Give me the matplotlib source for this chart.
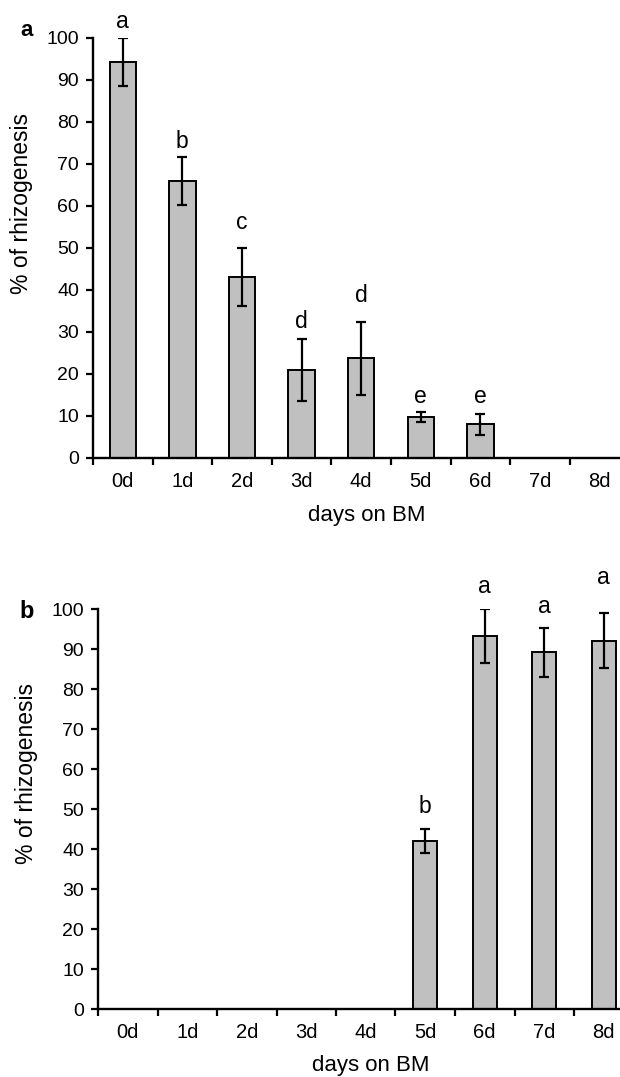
import matplotlib
matplotlib.use("Agg")
import matplotlib.pyplot as plt
import numpy as np

plt.rcParams['font.family'] = ['Liberation Sans', 'DejaVu Sans']

days = ["0d", "1d", "2d", "3d", "4d", "5d", "6d", "7d", "8d"]

# Panel a
a_mean = [94.2, 66.0, 43.0, 21.0, 23.7, 9.8, 8.0, 0, 0]
a_err = [5.7, 5.7, 6.9, 7.4, 8.6, 1.2, 2.5, 0, 0]
a_letters = ["a", "b", "c", "d", "d", "e", "e", "", ""]
a_letter_off = [10, 9, 19, 11, 20, 9, 11, 0, 0]   # px above error bar

# Panel b
b_mean = [0, 0, 0, 0, 0, 42.0, 93.2, 89.2, 92.1]
b_err = [0, 0, 0, 0, 0, 3.1, 6.8, 6.1, 6.9]
b_letters = ["", "", "", "", "", "b", "a", "a", "a"]
b_letter_off = [0, 0, 0, 0, 0, 16, 16, 15, 29]

yticks = list(range(0, 101, 10))

W, H = 620, 1077
fig = plt.figure(figsize=(W / 100, H / 100), dpi=100)


def px2fig(x, y):
    return x / W, 1 - y / H


def panel(rect, mean, err, letters, offs, width, xmax):
    ax = fig.add_axes(rect)
    x = np.arange(len(days))
    show = [m > 0 for m in mean]
    xs = [xi for xi, s in zip(x, show) if s]
    ms = [m for m, s in zip(mean, show) if s]
    es = [e for e, s in zip(err, show) if s]
    ax.bar(xs, ms, width=width, color="#c0c0c0", edgecolor="black",
           linewidth=1.4, zorder=2)
    ax.errorbar(xs, ms, yerr=es, fmt="none", ecolor="black",
                elinewidth=1.6, capsize=3.5, capthick=1.6, zorder=3)
    for xi, m, e, lab, o in zip(x, mean, err, letters, offs):
        if lab:
            ax.annotate(lab, (xi, m + e), xytext=(0, o * 0.72),
                        textcoords="offset points", ha="center",
                        va="baseline", fontsize=16.5, annotation_clip=False)
    ax.set_xlim(-0.5, xmax)
    ax.set_ylim(0, 100)
    ax.set_yticks(yticks)
    ax.set_xticks(x)
    ax.set_xticklabels(days)
    ax.set_xticks(np.arange(-0.5, 8, 1), minor=True)
    ax.tick_params(axis="x", which="major", length=0, pad=10, labelsize=14.5)
    ax.tick_params(axis="x", which="minor", length=5, width=1.6,
                   direction="out")
    ax.tick_params(axis="y", length=5, width=1.6, direction="out",
                   pad=5, labelsize=14)
    for s in ["top", "right"]:
        ax.spines[s].set_visible(False)
    for s in ["left", "bottom"]:
        ax.spines[s].set_linewidth(1.7)
    return ax


# top panel: x axis at 93 px, y0 at 458, y100 at 38
axa = panel([93 / W, 1 - 458 / H, 527 / W, 420 / H], a_mean, a_err,
            a_letters, a_letter_off, 0.44, -0.5 + 527 / 59.6)
# bottom panel: x axis at 98 px, y0 at 1009, y100 at 609
axb = panel([98 / W, 1 - 1009 / H, 522 / W, 400 / H], b_mean, b_err,
            b_letters, b_letter_off, 0.40, -0.5 + 522 / 59.5)

# axis labels
fig.text(*px2fig(22, 204), "% of rhizogenesis", rotation=90, ha="center",
         va="center", fontsize=16.5)
fig.text(*px2fig(26, 773), "% of rhizogenesis", rotation=90, ha="center",
         va="center", fontsize=16.5)
fig.text(*px2fig(367, 515), "days on BM", ha="center", va="center",
         fontsize=16)
fig.text(*px2fig(371, 1066), "days on BM", ha="center", va="center",
         fontsize=16)

# panel letters
fig.text(*px2fig(27, 30), "a", ha="center", va="center", fontsize=16,
         fontweight="bold")
fig.text(*px2fig(27, 612), "b", ha="center", va="center", fontsize=17,
         fontweight="bold")

fig.savefig("out.png", dpi=100)
